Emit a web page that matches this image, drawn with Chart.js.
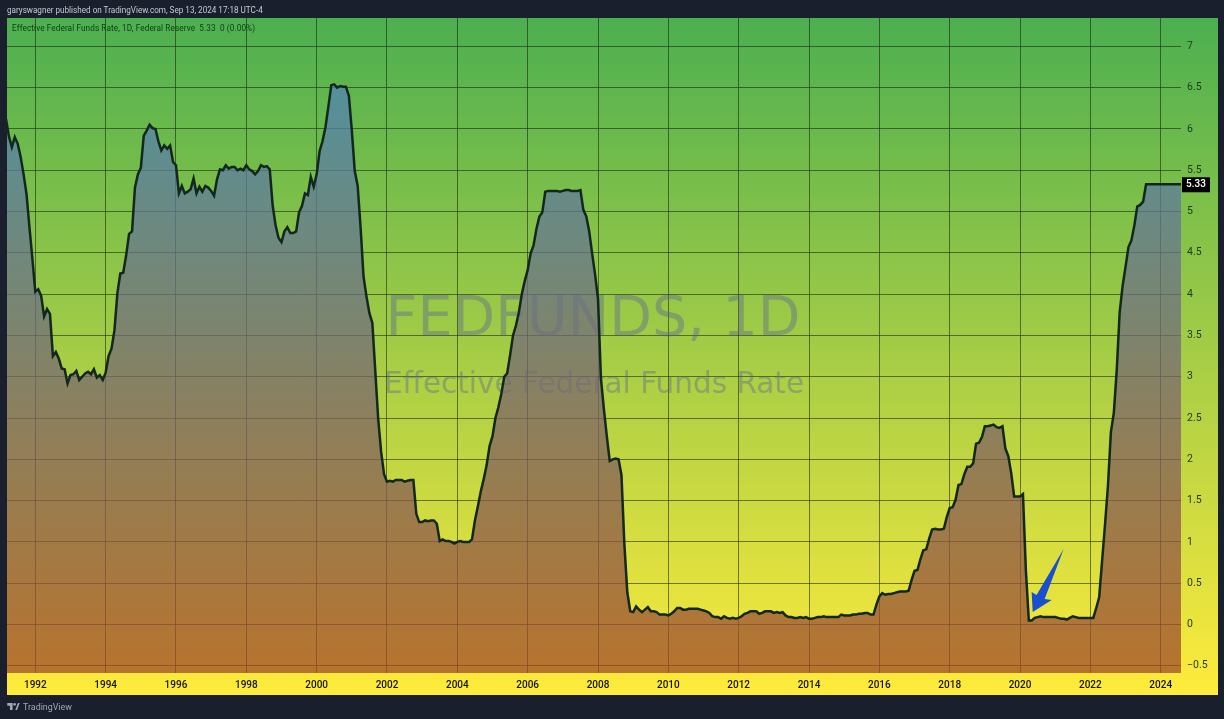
<!DOCTYPE html>
<html lang="en">
<head>
    <meta charset="UTF-8">
    <title>FEDFUNDS, 1D</title>
    <script src="https://cdn.jsdelivr.net/npm/chart.js"></script>
    <style>
        html, body { margin: 0; padding: 0; background: #1a1f2e; overflow: hidden; }
        #wrap { position: relative; width: 1224px; height: 719px; }
        canvas { display: block; }
        .txt { position: absolute; white-space: pre; font-family: Roboto, sans-serif; }
        #published { left: 7px; top: 4px; font-size: 8.15px; line-height: 12px; color: #c8cad0; }
        #legendline { left: 12px; top: 22px; font-size: 8.2px; line-height: 12px; color: #103a18; letter-spacing: 0.1px; }
        #brand { left: 23px; top: 700px; font-size: 8.9px; line-height: 14px; color: #a3a7b0; }
        #logo { position: absolute; left: 7px; top: 703px; }
    </style>
</head>
<body>
<div id="wrap">
    <canvas id="grafico" width="1224" height="719"></canvas>
    <div class="txt" id="published">garyswagner published on TradingView.com, Sep 13, 2024 17:18 UTC-4</div>
    <div class="txt" id="legendline">Effective Federal Funds Rate, 1D, Federal Reserve  5.33  0 (0.00%)</div>
    <svg id="logo" width="13" height="8" viewBox="0 0 14 9">
        <path d="M0 0H6V8H3V3H0Z M9 8L12 0H14.000L11 8Z" fill="#a3a7b0"/>
        <circle cx="8.2" cy="1.5" r="1.5" fill="#a3a7b0"/>
    </svg>
    <div class="txt" id="brand">TradingView</div>
</div>
<script>
    // Monthly values, first one is March 1991
    const firstMonth = 1991 + 2 / 12;
    const rates1991 = [6.12, 5.91, 5.78, 5.90, 5.82, 5.66, 5.45, 5.21, 4.81, 4.43];
    const rates1992 = [4.03, 4.06, 3.98, 3.73, 3.82, 3.76, 3.25, 3.30, 3.22, 3.10, 3.09, 2.92];
    const rates1993 = [3.02, 3.03, 3.07, 2.96, 3.00, 3.04, 3.06, 3.03, 3.09, 2.99, 3.02, 2.96];
    const rates1994 = [3.05, 3.25, 3.34, 3.56, 4.01, 4.25, 4.26, 4.47, 4.73, 4.76, 5.29, 5.45];
    const rates1995 = [5.53, 5.92, 5.98, 6.05, 6.01, 6.00, 5.85, 5.74, 5.80, 5.76, 5.80, 5.60];
    const rates1996 = [5.56, 5.22, 5.31, 5.22, 5.24, 5.27, 5.40, 5.22, 5.30, 5.24, 5.31, 5.29];
    const rates1997 = [5.25, 5.19, 5.39, 5.51, 5.50, 5.56, 5.52, 5.54, 5.54, 5.50, 5.52, 5.50];
    const rates1998 = [5.56, 5.51, 5.49, 5.45, 5.49, 5.56, 5.54, 5.55, 5.51, 5.07, 4.83, 4.68];
    const rates1999 = [4.63, 4.76, 4.81, 4.74, 4.74, 4.76, 4.99, 5.07, 5.22, 5.20, 5.42, 5.30];
    const rates2000 = [5.45, 5.73, 5.85, 6.02, 6.27, 6.53, 6.54, 6.50, 6.52, 6.51, 6.51, 6.40];
    const rates2001 = [5.98, 5.49, 5.31, 4.80, 4.21, 3.97, 3.77, 3.65, 3.07, 2.49, 2.09, 1.82];
    const rates2002 = [1.73, 1.74, 1.73, 1.75, 1.75, 1.75, 1.73, 1.74, 1.75, 1.75, 1.34, 1.24];
    const rates2003 = [1.24, 1.26, 1.25, 1.26, 1.26, 1.22, 1.01, 1.03, 1.01, 1.01, 1.00, 0.98];
    const rates2004 = [1.00, 1.01, 1.00, 1.00, 1.00, 1.03, 1.26, 1.43, 1.61, 1.76, 1.93, 2.16];
    const rates2005 = [2.28, 2.50, 2.63, 2.79, 3.00, 3.04, 3.26, 3.50, 3.62, 3.78, 4.00, 4.16];
    const rates2006 = [4.29, 4.49, 4.59, 4.79, 4.94, 4.99, 5.24, 5.25, 5.25, 5.25, 5.25, 5.24];
    const rates2007 = [5.25, 5.26, 5.26, 5.25, 5.25, 5.25, 5.26, 5.02, 4.94, 4.76, 4.49, 4.24];
    const rates2008 = [3.94, 2.98, 2.61, 2.28, 1.98, 2.00, 2.01, 2.00, 1.81, 0.97, 0.39, 0.16];
    const rates2009 = [0.15, 0.22, 0.18, 0.15, 0.18, 0.21, 0.16, 0.16, 0.15, 0.12, 0.12, 0.12];
    const rates2010 = [0.11, 0.13, 0.16, 0.20, 0.20, 0.18, 0.18, 0.19, 0.19, 0.19, 0.19, 0.18];
    const rates2011 = [0.17, 0.16, 0.14, 0.10, 0.09, 0.09, 0.07, 0.10, 0.08, 0.07, 0.08, 0.07];
    const rates2012 = [0.08, 0.10, 0.13, 0.14, 0.16, 0.16, 0.16, 0.13, 0.14, 0.16, 0.16, 0.16];
    const rates2013 = [0.14, 0.15, 0.14, 0.15, 0.11, 0.09, 0.09, 0.08, 0.08, 0.09, 0.08, 0.09];
    const rates2014 = [0.07, 0.07, 0.08, 0.09, 0.09, 0.10, 0.09, 0.09, 0.09, 0.09, 0.09, 0.12];
    const rates2015 = [0.11, 0.11, 0.11, 0.12, 0.12, 0.13, 0.13, 0.14, 0.14, 0.12, 0.12, 0.24];
    const rates2016 = [0.34, 0.38, 0.36, 0.37, 0.37, 0.38, 0.39, 0.40, 0.40, 0.40, 0.41, 0.54];
    const rates2017 = [0.65, 0.66, 0.79, 0.90, 0.91, 1.04, 1.15, 1.16, 1.15, 1.15, 1.16, 1.30];
    const rates2018 = [1.41, 1.42, 1.51, 1.69, 1.70, 1.82, 1.91, 1.91, 1.95, 2.19, 2.20, 2.27];
    const rates2019 = [2.40, 2.40, 2.41, 2.42, 2.39, 2.38, 2.40, 2.13, 2.04, 1.83, 1.55, 1.55];
    const rates2020 = [1.55, 1.58, 0.65, 0.05, 0.05, 0.08, 0.09, 0.10, 0.09, 0.09, 0.09, 0.09];
    const rates2021 = [0.09, 0.08, 0.07, 0.07, 0.06, 0.08, 0.10, 0.09, 0.08, 0.08, 0.08, 0.08];
    const rates2022 = [0.08, 0.08, 0.20, 0.33, 0.77, 1.21, 1.68, 2.33, 2.56, 3.08, 3.78, 4.10];
    const rates2023 = [4.33, 4.57, 4.65, 4.83, 5.06, 5.08, 5.12, 5.33, 5.33, 5.33, 5.33, 5.33];
    const rates2024 = [5.33, 5.33, 5.33, 5.33, 5.33, 5.33, 5.33, 5.33];

    const xTickYears = [1992, 1994, 1996, 1998, 2000, 2002, 2004, 2006, 2008, 2010, 2012, 2014, 2016, 2018, 2020, 2022, 2024];
    const yTickValues = [7, 6.5, 6, 5.5, 5, 4.5, 4, 3.5, 3, 2.5, 2, 1.5, 1, 0.5, 0, -0.5];
    const lastValue = 5.33;
    const arrowYears = [2021.24, 2020.70, 2020.90, 2020.36, 2020.33, 2020.47];
    const arrowRates = [0.914, 0.309, 0.297, 0.151, 0.393, 0.357];

    const allRates = [].concat(rates1991, rates1992, rates1993, rates1994, rates1995, rates1996, rates1997,
        rates1998, rates1999, rates2000, rates2001, rates2002, rates2003, rates2004, rates2005, rates2006,
        rates2007, rates2008, rates2009, rates2010, rates2011, rates2012, rates2013, rates2014, rates2015,
        rates2016, rates2017, rates2018, rates2019, rates2020, rates2021, rates2022, rates2023, rates2024);
    const puntos = allRates.map((v, i) => ({ x: firstMonth + i / 12, y: v }));

    const FONT = 'Roboto, sans-serif';
    const FONT_MARCA = '"DejaVu Sans", sans-serif';

    // panel behind everything: green to yellow, dark page round it
    const fondo = {
        id: 'fondo',
        beforeDraw(chart) {
            const ctx = chart.ctx;
            ctx.save();
            ctx.fillStyle = '#1a1f2e';
            ctx.fillRect(0, 0, chart.width, chart.height);
            const g = ctx.createLinearGradient(0, 18, 0, 695);
            g.addColorStop(0, '#4caf50');
            g.addColorStop(1, '#ffeb3b');
            ctx.fillStyle = g;
            ctx.fillRect(7, 18, 1211, 677);
            ctx.restore();
        }
    };

    const marcaAgua = {
        id: 'marcaAgua',
        beforeDatasetsDraw(chart) {
            const ctx = chart.ctx;
            ctx.save();
            ctx.textAlign = 'center';
            ctx.textBaseline = 'alphabetic';
            ctx.fillStyle = 'rgba(88, 92, 150, 0.38)';
            ctx.font = '55.5px ' + FONT_MARCA;
            ctx.fillText('FEDFUNDS, 1D', 593, 335);
            ctx.font = '29.5px ' + FONT_MARCA;
            ctx.fillText('Effective Federal Funds Rate', 594, 393);
            ctx.restore();
        }
    };

    // blue arrow and the last value tag
    const extras = {
        id: 'extras',
        afterDraw(chart) {
            const ctx = chart.ctx;
            const xs = chart.scales.x, ys = chart.scales.y;
            ctx.save();
            ctx.fillStyle = '#1a4fd0';
            ctx.beginPath();
            arrowYears.forEach((yr, i) => {
                const px = xs.getPixelForValue(yr), py = ys.getPixelForValue(arrowRates[i]);
                if (i === 0) ctx.moveTo(px, py); else ctx.lineTo(px, py);
            });
            ctx.closePath();
            ctx.fill();

            const yTag = ys.getPixelForValue(lastValue);
            ctx.fillStyle = '#000';
            ctx.fillRect(1182, yTag - 7, 28, 15);
            ctx.fillStyle = '#fff';
            ctx.font = '500 10px ' + FONT;
            ctx.textAlign = 'center';
            ctx.textBaseline = 'middle';
            ctx.fillText(lastValue.toFixed(2), 1196, yTag + 0.5);
            ctx.restore();
        }
    };

    const ctx = document.getElementById('grafico').getContext('2d');
    new Chart(ctx, {
        type: 'line',
        data: {
            datasets: [{
                label: 'Effective Federal Funds Rate',
                data: puntos,
                borderColor: '#12281c',
                borderWidth: 2.5,
                pointRadius: 0,
                tension: 0,
                fill: 'start',
                backgroundColor(c) {
                    const g = c.chart.ctx.createLinearGradient(0, 85, 0, 673);
                    g.addColorStop(0, 'rgba(80, 130, 185, 0.72)');
                    g.addColorStop(1, 'rgba(158, 70, 40, 0.72)');
                    return g;
                }
            }]
        },
        options: {
            responsive: false,
            animation: false,
            layout: { padding: { left: 7, top: 18, right: 6, bottom: 24 } },
            plugins: { legend: { display: false }, tooltip: { enabled: false } },
            scales: {
                x: {
                    type: 'linear',
                    min: 1991.195,
                    max: 2024.577,
                    afterBuildTicks(s) { s.ticks = xTickYears.map(v => ({ value: v })); },
                    afterFit(s) { s.height = 22; },
                    grid: { color: 'rgba(20, 30, 10, 0.55)', lineWidth: 1, drawTicks: false },
                    border: { display: false },
                    ticks: {
                        autoSkip: false,
                        maxRotation: 0,
                        padding: 6,
                        color: '#111',
                        font: { family: FONT, size: 10, weight: '500' },
                        callback: v => String(v)
                    }
                },
                y: {
                    position: 'right',
                    min: -0.587,
                    max: 7.343,
                    afterBuildTicks(s) { s.ticks = yTickValues.map(v => ({ value: v })); },
                    afterFit(s) { s.width = 37; },
                    grid: { color: 'rgba(20, 30, 10, 0.55)', lineWidth: 1, drawTicks: false },
                    border: { display: false },
                    ticks: {
                        autoSkip: false,
                        crossAlign: 'near',
                        padding: 6,
                        color: '#1c3a1c',
                        font: { family: FONT, size: 10.5 },
                        callback: v => String(v).replace('-', '\u2212')
                    }
                }
            }
        },
        plugins: [fondo, marcaAgua, extras]
    });
</script>
</body>
</html>
